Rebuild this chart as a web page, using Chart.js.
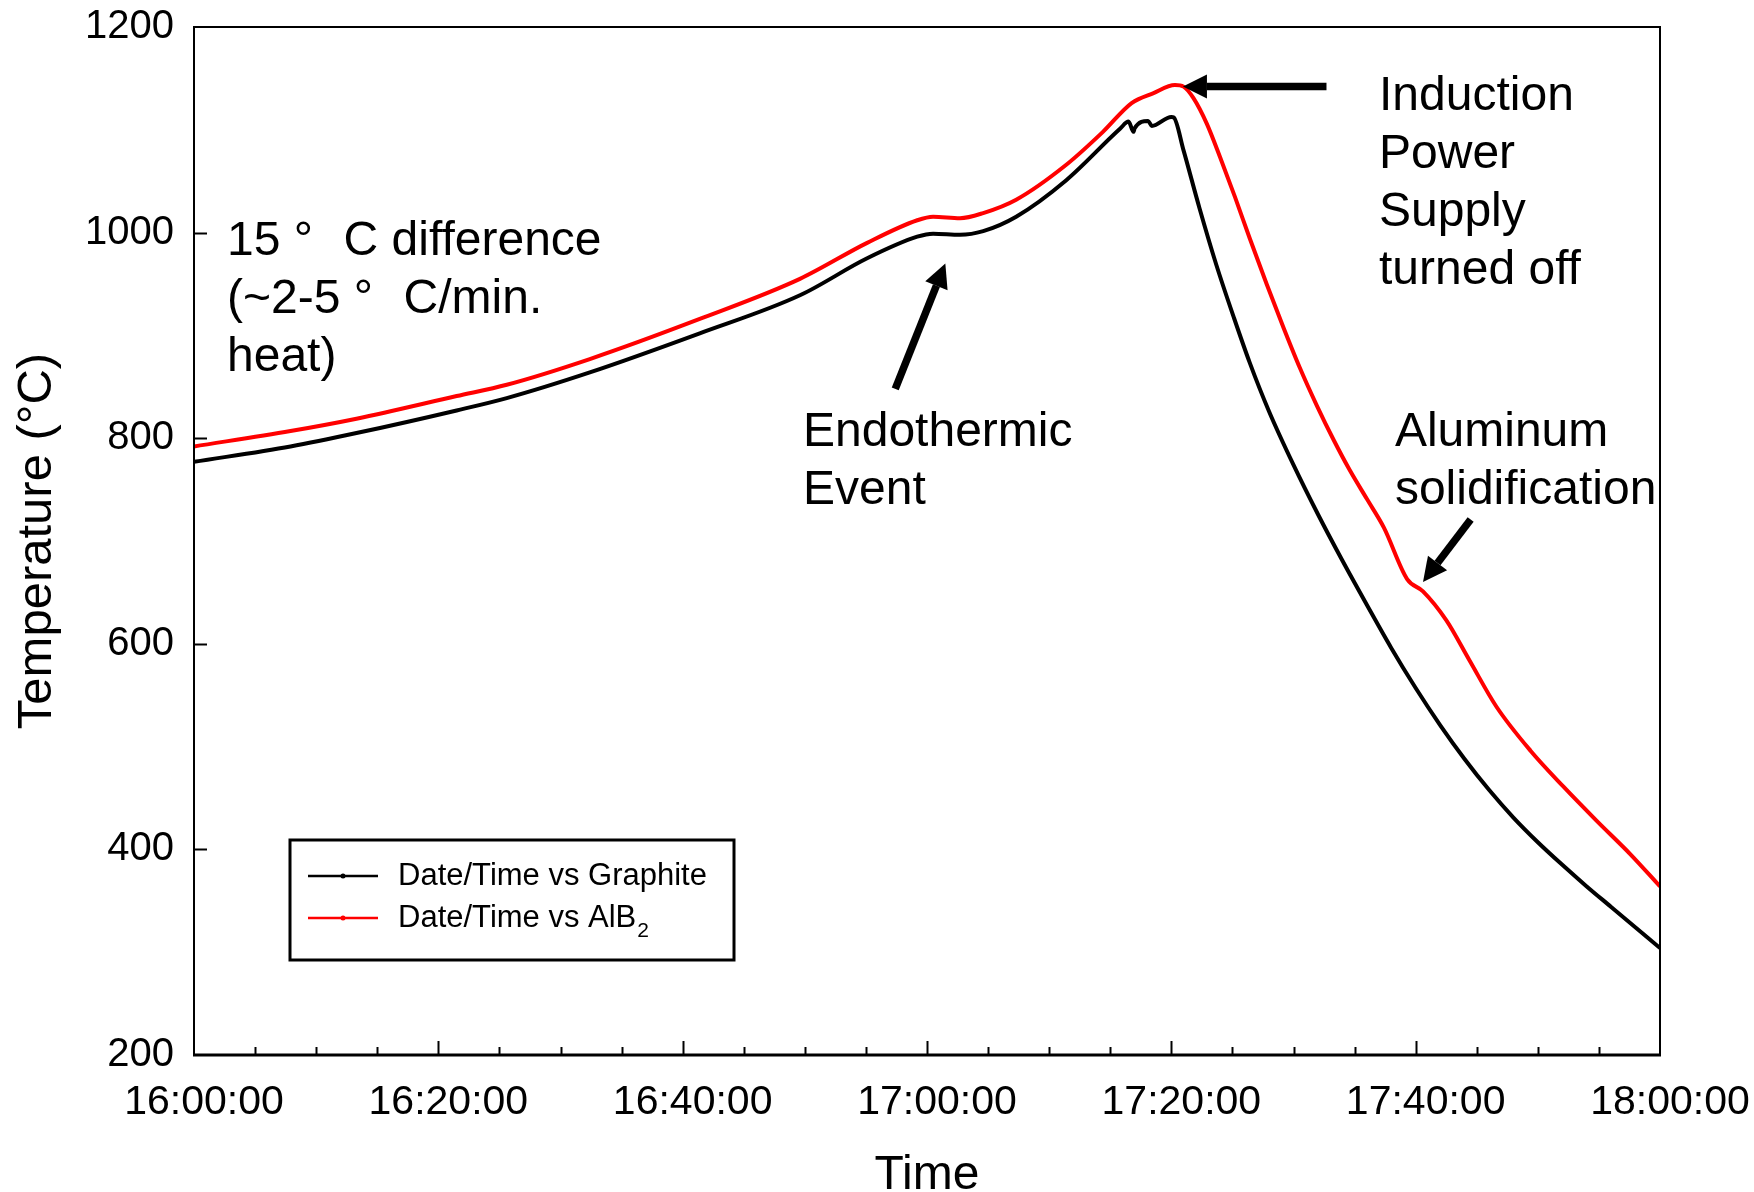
<!DOCTYPE html>
<html>
<head>
<meta charset="utf-8">
<script src="https://cdn.jsdelivr.net/npm/chart.js@4.4.1/dist/chart.umd.min.js"></script>
<style>
  html, body { margin: 0; padding: 0; background: #fff; }
  #wrap { width: 1754px; height: 1192px; }
</style>
</head>
<body>
<div id="wrap"><canvas id="myChart" width="1754" height="1192"></canvas></div>
<script>
// time is minutes after 16:00:00
const tickLabels = ['16:00:00', '16:20:00', '16:40:00', '17:00:00', '17:20:00', '17:40:00', '18:00:00'];

const graphiteTime = [0, 7.9, 13.3, 21.5, 25.6, 32.4, 41.4, 49.6, 55.1, 59.2, 60.5, 62.7, 64.6, 67.3, 71.4, 75.8,
  76.5, 76.9, 77.0, 78.1, 78.4, 80.0, 80.2, 81.0, 82.3, 83.7, 85.1, 86.4, 88, 90, 92, 94, 96,
  98, 100, 102, 104, 106, 108, 110, 112, 114, 116, 118, 120];
const graphiteTemp = [777, 792, 805, 827, 839, 864, 902, 939, 975, 996, 999, 998, 1001.5, 1015.5, 1051, 1101,
  1108, 1098, 1101.5, 1108.6, 1103.7, 1112.5, 1112, 1080, 1024, 968, 918, 874, 826, 774, 726, 681, 638,
  596, 557, 521, 488, 458, 431, 407, 385, 364, 344, 324, 304];

const alb2Time = [0, 7.9, 13.3, 21.5, 25.6, 32.4, 41.4, 49.6, 55.1, 59.2, 60.5, 62.7, 64.6, 67.3, 71.4, 74.4,
  76.75, 78.5, 80.3, 81.0, 81.8, 82.9, 84.0, 85.2, 86.4, 87.8, 89.2, 90.5, 91.9, 93.3, 94.6, 96.0, 97.4,
  99.3, 100.6, 102.5, 104.4, 106.6, 109.4, 112.1, 114.8, 117.6, 120];
const alb2Temp = [792, 807, 819, 841, 852, 877, 916, 955, 990, 1012, 1015.5, 1014, 1019, 1032, 1066, 1098,
  1126, 1135.5, 1143.6, 1142, 1131, 1106, 1073, 1035, 995, 950, 907, 869, 832, 798, 769, 741, 713,
  663, 651, 623, 584, 539, 496, 461, 428, 395, 364];

const seriesNames = ['Date/Time vs Graphite', 'Date/Time vs AlB'];
const seriesSub = ['', '2'];
const seriesColors = ['#000000', '#ff0000'];

// annotation text, anchored in data units (minutes, degC)
const notes = [
  { t: 2.7, T: 991, lines: ['15 \u00b0  \u200aC difference', '(~2-5 \u00b0  \u200aC/min.', 'heat)'] },
  { t: 49.85, T: 805, lines: ['Endothermic', 'Event'] },
  { t: 97.0, T: 1132, lines: ['Induction', 'Power', 'Supply', 'turned off'] },
  { t: 98.3, T: 805, lines: ['Aluminum', 'solidification'] }
];
// arrows: tail -> tip, data units
const arrows = [
  { t1: 92.7, T1: 1142, t2: 80.95, T2: 1142 },
  { t1: 57.4, T1: 848, t2: 61.5, T2: 970 },
  { t1: 104.5, T1: 721, t2: 100.6, T2: 660 }
];

const FONT = "'Liberation Sans', Arial, sans-serif";

function toPoints(xs, ys) {
  let pts = [];
  for (let i = 0; i < xs.length; i++) pts.push({ x: xs[i], y: ys[i] });
  return pts;
}

function drawArrow(ctx, x1, y1, x2, y2) {
  const ang = Math.atan2(y2 - y1, x2 - x1);
  const headLen = 24, headHalf = 12;
  const bx = x2 - headLen * Math.cos(ang), by = y2 - headLen * Math.sin(ang);
  ctx.save();
  ctx.strokeStyle = '#000';
  ctx.fillStyle = '#000';
  ctx.lineWidth = 7.5;
  ctx.beginPath();
  ctx.moveTo(x1, y1);
  ctx.lineTo(bx, by);
  ctx.stroke();
  ctx.beginPath();
  ctx.moveTo(x2, y2);
  ctx.lineTo(bx + headHalf * Math.sin(ang), by - headHalf * Math.cos(ang));
  ctx.lineTo(bx - headHalf * Math.sin(ang), by + headHalf * Math.cos(ang));
  ctx.closePath();
  ctx.fill();
  ctx.restore();
}

const framePlugin = {
  id: 'frameAndNotes',
  afterDraw(chart) {
    const ctx = chart.ctx;
    const a = chart.chartArea;
    const xs = chart.scales.x, ys = chart.scales.y;
    ctx.save();
    ctx.strokeStyle = '#000';
    // box
    ctx.lineWidth = 2;
    ctx.beginPath();
    ctx.moveTo(a.left, a.bottom); ctx.lineTo(a.left, a.top);
    ctx.lineTo(a.right, a.top); ctx.lineTo(a.right, a.bottom);
    ctx.stroke();
    ctx.lineWidth = 3;
    ctx.beginPath();
    ctx.moveTo(a.left - 1, a.bottom); ctx.lineTo(a.right + 1, a.bottom);
    ctx.stroke();
    // inward ticks
    ctx.lineWidth = 2;
    for (let m = 5; m < 120; m += 5) {
      const px = Math.round(xs.getPixelForValue(m)) + 0.5;
      const len = (m % 20 === 0) ? 14 : 8;
      ctx.beginPath();
      ctx.moveTo(px, a.bottom); ctx.lineTo(px, a.bottom - len);
      ctx.stroke();
    }
    for (let v = 400; v < 1200; v += 200) {
      const py = Math.round(ys.getPixelForValue(v)) + 0.5;
      ctx.beginPath();
      ctx.moveTo(a.left, py); ctx.lineTo(a.left + 13, py);
      ctx.stroke();
    }

    // notes
    ctx.fillStyle = '#000';
    ctx.font = '48px ' + FONT;
    ctx.textBaseline = 'middle';
    ctx.textAlign = 'left';
    notes.forEach(n => {
      const x0 = xs.getPixelForValue(n.t);
      const y0 = ys.getPixelForValue(n.T);
      n.lines.forEach((s, i) => ctx.fillText(s, x0, y0 + i * 58));
    });
    arrows.forEach(r => drawArrow(ctx,
      xs.getPixelForValue(r.t1), ys.getPixelForValue(r.T1),
      xs.getPixelForValue(r.t2), ys.getPixelForValue(r.T2)));

    // legend box
    const lx = 290, ly = 840, lw = 444, lh = 120;
    ctx.lineWidth = 3;
    ctx.strokeRect(lx, ly, lw, lh);
    for (let i = 0; i < seriesNames.length; i++) {
      const ry = ly + 36 + i * 42;
      ctx.strokeStyle = seriesColors[i];
      ctx.fillStyle = seriesColors[i];
      ctx.lineWidth = 2.5;
      ctx.beginPath();
      ctx.moveTo(lx + 18, ry); ctx.lineTo(lx + 88, ry);
      ctx.stroke();
      ctx.beginPath();
      ctx.arc(lx + 53, ry, 2.5, 0, Math.PI * 2);
      ctx.fill();
      ctx.fillStyle = '#000';
      ctx.font = '31px ' + FONT;
      ctx.fillText(seriesNames[i], lx + 108, ry);
      if (seriesSub[i]) {
        const w = ctx.measureText(seriesNames[i]).width;
        ctx.font = '21px ' + FONT;
        ctx.fillText(seriesSub[i], lx + 108 + w + 1, ry + 13);
      }
    }
    ctx.restore();
  }
};

const data = {
  datasets: [
    {
      label: seriesNames[0],
      data: toPoints(graphiteTime, graphiteTemp),
      borderColor: seriesColors[0],
      borderWidth: 4,
      pointRadius: 0,
      cubicInterpolationMode: 'monotone'
    },
    {
      label: seriesNames[1] + seriesSub[1],
      data: toPoints(alb2Time, alb2Temp),
      borderColor: seriesColors[1],
      borderWidth: 4,
      pointRadius: 0,
      cubicInterpolationMode: 'monotone'
    }
  ]
};

const config = {
  type: 'line',
  data: data,
  options: {
    responsive: false,
    animation: false,
    layout: { padding: { left: 0, top: 27, right: 94, bottom: 0 } },
    plugins: {
      legend: { display: false },
      tooltip: { enabled: false }
    },
    scales: {
      x: {
        type: 'linear',
        min: 0,
        max: 120,
        grid: { display: false, drawTicks: false },
        border: { display: false },
        ticks: {
          stepSize: 20,
          padding: 23,
          labelOffset: 10,
          maxRotation: 0,
          color: '#000',
          font: { family: FONT, size: 41 },
          callback: (v) => tickLabels[Math.round(v / 20)]
        },
        title: {
          display: true,
          text: 'Time',
          color: '#000',
          font: { family: FONT, size: 48, lineHeight: 0.6 },
          padding: { top: 0, bottom: 2 }
        },
        afterFit: (s) => { s.height = 137; s.paddingLeft = 0; s.paddingRight = 0; }
      },
      y: {
        min: 200,
        max: 1200,
        grid: { display: false, drawTicks: false },
        border: { display: false },
        ticks: {
          stepSize: 200,
          padding: 20,
          color: '#000',
          font: { family: FONT, size: 40 },
          callback: (v) => String(v)
        },
        title: {
          display: true,
          text: 'Temperature (\u00b0C)',
          color: '#000',
          font: { family: FONT, size: 49, lineHeight: 1.2 },
          padding: { top: 8, bottom: 0 }
        },
        afterFit: (s) => { s.width = 194; s.paddingTop = 0; s.paddingBottom = 0; }
      }
    }
  },
  plugins: [framePlugin]
};

const myChart = new Chart(document.getElementById('myChart'), config);
</script>
</body>
</html>
